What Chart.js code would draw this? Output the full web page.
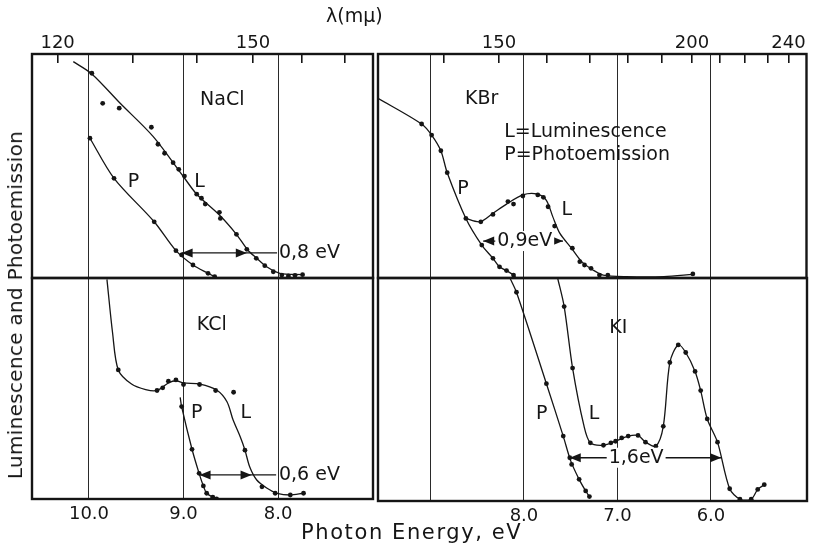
<!DOCTYPE html>
<html>
<head>
<meta charset="utf-8">
<script src="https://cdn.jsdelivr.net/npm/chart.js@4.4.1/dist/chart.umd.min.js"></script>
<style>
    body { margin: 0; background: #fff; }
    #wrap { position: relative; width: 815px; height: 546px; overflow: hidden; }
    #wrap canvas { position: absolute; left: 0; top: 0; }
    .txt { position: absolute; font-family: 'DejaVu Sans', sans-serif; color: #151515; white-space: nowrap; }
    #lam { left: 326px; top: 4px; font-size: 19px; }
    #xtitle { left: 301px; top: 520px; font-size: 21px; letter-spacing: 1.6px; }
    #ytitle { left: 15px; top: 305px; font-size: 20px; letter-spacing: 0.3px; transform: translate(-50%, -50%) rotate(-90deg); }
</style>
</head>
<body>
<div id="wrap">
    <canvas id="c-nacl" width="815" height="546"></canvas>
    <canvas id="c-kcl" width="815" height="546"></canvas>
    <canvas id="c-kbr" width="815" height="546"></canvas>
    <canvas id="c-ki" width="815" height="546"></canvas>
    <div class="txt" id="lam">λ(mμ)</div>
    <div class="txt" id="xtitle">Photon Energy, eV</div>
    <div class="txt" id="ytitle">Luminescence and Photoemission</div>
</div>
<script>
// photon energy (eV) and relative intensity (0-100).
// *Dot* arrays are the measured points, *Line* arrays trace the drawn curve.
const naclLumDotE = [9.97, 9.855, 9.68, 9.34, 9.27, 9.20, 9.11, 9.05, 8.99, 8.86, 8.81, 8.77, 8.62, 8.61, 8.44, 8.33, 8.23, 8.14, 8.05, 7.96, 7.89, 7.82, 7.74];
const naclLumDotI = [91.4, 78.0, 75.8, 67.3, 59.7, 55.7, 51.5, 48.5, 45.5, 37.4, 35.6, 33.0, 29.3, 26.6, 19.5, 12.8, 8.8, 5.5, 2.8, 1.3, 0.9, 1.2, 1.5];
const naclLumLineE = [10.166, 9.97, 9.67, 9.32, 9.0, 8.86, 8.62, 8.44, 8.32, 8.225, 8.12, 7.98, 7.74];
const naclLumLineI = [96.6, 91.1, 78.0, 63.1, 45.2, 37.4, 28.1, 19.5, 12.5, 8.8, 5.0, 2.1, 1.5];
const naclPhoDotE = [9.99, 9.735, 9.31, 9.08, 9.02, 8.90, 8.74, 8.67];
const naclPhoDotI = [62.4, 44.5, 25.1, 12.2, 10.3, 5.8, 2.1, 0.6];
const naclPhoLineE = [9.99, 9.735, 9.31, 9.08, 8.90, 8.74, 8.67];
const naclPhoLineI = [62.4, 44.5, 25.1, 12.2, 5.8, 2.1, 0.6];

const kbrPhoDotE = [9.094, 8.987, 8.888, 8.82, 8.62, 8.45, 8.33, 8.26, 8.185, 8.11];
const kbrPhoDotI = [68.75, 63.8, 56.8, 47.0, 26.6, 14.7, 8.8, 5.0, 3.3, 1.3];
const kbrPhoLineE = [9.56, 9.094, 8.987, 8.888, 8.82, 8.62, 8.45, 8.33, 8.26, 8.185, 8.11, 8.08];
const kbrPhoLineI = [80.2, 68.75, 63.8, 56.8, 47.0, 26.6, 14.7, 8.8, 5.0, 3.3, 1.3, 0];
const kbrLumDotE = [8.46, 8.33, 8.17, 8.11, 8.01, 7.85, 7.79, 7.74, 7.67, 7.48, 7.40, 7.35, 7.28, 7.19, 7.10, 6.19];
const kbrLumDotI = [25.1, 28.4, 34.1, 33.0, 36.6, 37.1, 36.0, 31.8, 23.2, 13.3, 7.3, 5.8, 4.3, 1.3, 1.3, 1.8];
const kbrLumLineE = [8.63, 8.47, 8.33, 8.185, 8.01, 7.86, 7.76, 7.69, 7.615, 7.49, 7.38, 7.26, 7.15, 6.9, 6.5, 6.19];
const kbrLumLineI = [26.7, 25.1, 28.9, 33.0, 37.1, 37.5, 34.8, 27.4, 20.0, 13.3, 7.3, 3.6, 1.3, 0.6, 0.6, 1.6];

const kclLumDotE = [9.69, 9.28, 9.22, 9.16, 9.08, 9.00, 8.83, 8.66, 8.47, 8.35, 8.17, 8.03, 7.87, 7.73];
const kclLumDotI = [58.4, 49.1, 50.3, 53.3, 53.9, 51.8, 51.8, 49.1, 48.3, 22.1, 5.5, 2.6, 1.8, 2.6];
const kclLumLineE = [9.81, 9.75, 9.69, 9.55, 9.40, 9.28, 9.16, 9.08, 9.0, 8.825, 8.65, 8.54, 8.475, 8.40, 8.35, 8.30, 8.225, 8.12, 8.01, 7.87, 7.735];
const kclLumLineI = [99.4, 75.0, 58.4, 52.0, 49.5, 49.1, 52.5, 53.5, 52.5, 52.0, 49.3, 44.0, 35.7, 28.2, 22.2, 14.6, 8.6, 5.0, 2.6, 1.8, 2.6];
const kclPhoDotE = [9.02, 8.91, 8.835, 8.79, 8.755, 8.69, 8.65];
const kclPhoDotI = [41.8, 22.5, 11.6, 5.9, 2.6, 0.8, 0];
const kclPhoLineE = [9.035, 9.02, 8.91, 8.835, 8.79, 8.755, 8.69, 8.65];
const kclPhoLineI = [46.0, 41.8, 22.5, 11.6, 5.9, 2.6, 0.8, 0];

const kiPhoDotE = [8.08, 7.76, 7.58, 7.51, 7.49, 7.41, 7.34, 7.30];
const kiPhoDotI = [93.6, 52.6, 29.1, 19.4, 16.4, 9.7, 4.5, 2.0];
const kiPhoLineE = [8.15, 8.08, 7.76, 7.58, 7.50, 7.41, 7.34, 7.30];
const kiPhoLineI = [100, 93.6, 52.6, 29.1, 18.0, 9.7, 4.5, 2.0];
const kiLumDotE = [7.57, 7.48, 7.29, 7.15, 7.07, 7.02, 6.955, 6.885, 6.78, 6.70, 6.59, 6.51, 6.44, 6.35, 6.27, 6.17, 6.11, 6.04, 5.93, 5.80, 5.69, 5.57, 5.50, 5.43];
const kiLumDotI = [87.2, 59.6, 26.1, 25.0, 26.1, 26.8, 28.3, 29.1, 29.4, 26.4, 24.6, 33.5, 62.1, 70.0, 66.6, 58.1, 49.5, 36.8, 26.4, 5.5, 0.8, 0.8, 5.2, 7.3];
const kiLumLineE = [7.64, 7.57, 7.48, 7.36, 7.29, 7.15, 7.02, 6.885, 6.78, 6.70, 6.59, 6.51, 6.44, 6.35, 6.27, 6.17, 6.11, 6.04, 5.93, 5.80, 5.69, 5.57, 5.50, 5.43];
const kiLumLineI = [100, 87.2, 59.6, 34.0, 26.1, 25.0, 26.8, 29.1, 29.4, 26.4, 24.6, 33.5, 62.1, 70.0, 66.6, 58.1, 49.5, 36.8, 26.4, 5.5, 0.8, 0.8, 5.2, 7.3];

// axis ticks
const leftEnergyGrid = [10, 9, 8];
const leftEnergyLabels = ['10.0', '9.0', '8.0'];
const rightEnergyGrid = [9, 8, 7, 6];
const rightEnergyLabels = ['', '8.0', '7.0', '6.0'];
const leftLambdaTicks = [120, 130, 140, 150, 160, 170];
const leftLambdaLabels = [120, 150];
const rightLambdaTicks = [140, 150, 160, 170, 180, 190, 200, 210, 220, 230, 240];
const rightLambdaLabels = [150, 200, 240];

const INK = '#151515';
const FONT = "'DejaVu Sans', sans-serif";

const panelPlugin = {
    id: 'panel',
    afterDraw(chart, args, opts) {
        const { ctx, chartArea: a, scales } = chart;
        const px = v => scales.x.getPixelForValue(v);
        const py = v => scales.y.getPixelForValue(v);
        ctx.save();
        ctx.strokeStyle = INK;
        ctx.fillStyle = INK;
        ctx.lineWidth = 2.4;
        ctx.strokeRect(a.left, a.top, a.right - a.left, a.bottom - a.top);

        ctx.font = '19px ' + FONT;
        ctx.textBaseline = 'middle';
        (opts.notes || []).forEach(n => {
            ctx.textAlign = n.align || 'center';
            ctx.fillText(n.text, px(n.e), py(n.i));
        });

        (opts.arrows || []).forEach(ar => {
            const x1 = px(ar.from), x2 = px(ar.to), y = py(ar.i);
            const xEnd = ar.lineTo !== undefined ? px(ar.lineTo) : x2;
            ctx.lineWidth = 1.3;
            ctx.beginPath();
            ctx.moveTo(x1, y);
            ctx.lineTo(Math.max(x2, xEnd), y);
            ctx.stroke();
            [[x1, -1], [x2, 1]].forEach(([x, dir]) => {
                ctx.beginPath();
                ctx.moveTo(x, y);
                ctx.lineTo(x - dir * 11, y - 4.5);
                ctx.lineTo(x - dir * 11, y + 4.5);
                ctx.closePath();
                ctx.fill();
            });
            ctx.font = '19px ' + FONT;
            if (ar.textAlign === 'left') {
                ctx.textAlign = 'left';
                ctx.fillText(ar.text, px(ar.textE), y);
            } else {
                const w = ctx.measureText(ar.text).width;
                const tx = px(ar.textE);
                ctx.fillStyle = '#fff';
                ctx.fillRect(tx - w / 2 - 2, y - 10, w + 4, 20);
                ctx.fillStyle = INK;
                ctx.textAlign = 'center';
                ctx.fillText(ar.text, tx, y);
            }
        });
        ctx.restore();
    }
};

const toPoints = (es, is) => es.map((e, i) => ({ x: e, y: is[i] }));

function curveLine(es, is) {
    return {
        data: toPoints(es, is),
        showLine: true,
        tension: 0.3,
        borderColor: INK,
        borderWidth: 1.3,
        pointRadius: 0,
    };
}

function curveDots(es, is) {
    return {
        data: toPoints(es, is),
        showLine: false,
        pointRadius: 2.4,
        pointBackgroundColor: INK,
        pointBorderWidth: 0,
    };
}

function drawPanel(id, p) {
    const scales = {
        x: {
            type: 'linear', reverse: true, min: p.min, max: p.max, position: 'bottom',
            afterBuildTicks: s => { s.ticks = p.grid.map(v => ({ value: v })); },
            afterFit: s => { s.height = p.bottomLabels ? 30 : 0; },
            ticks: {
                display: !!p.bottomLabels, autoSkip: false, maxRotation: 0, padding: 5,
                color: INK, font: { family: FONT, size: 18 },
                callback: (v, i) => (p.bottomLabels ? p.bottomLabels[i] : ''),
            },
            grid: { color: '#2a2a2a', lineWidth: 1, drawTicks: false },
            border: { display: false },
        },
        y: { min: 0, max: 100, display: false },
    };
    if (p.lambdaTicks) {
        scales.xTop = {
            type: 'linear', reverse: true, min: p.min, max: p.max, position: 'top',
            afterBuildTicks: s => { s.ticks = p.lambdaTicks.map(l => ({ value: 1239.8 / l })); },
            afterFit: s => { s.height = 40; },
            ticks: {
                autoSkip: false, maxRotation: 0, padding: 9, color: INK,
                font: { family: FONT, size: 18 },
                callback: (v, i) => (p.lambdaLabels.includes(p.lambdaTicks[i]) ? String(p.lambdaTicks[i]) : ''),
            },
            grid: { drawOnChartArea: false, drawTicks: true, tickLength: -9, color: INK, lineWidth: 1.6 },
            border: { display: false },
        };
    }
    return new Chart(document.getElementById(id), {
        type: 'scatter',
        data: { datasets: p.datasets },
        options: {
            responsive: false,
            animation: false,
            events: [],
            layout: { padding: p.pad },
            plugins: {
                legend: { display: false },
                tooltip: { enabled: false },
                panel: { notes: p.notes, arrows: p.arrows },
            },
            scales: scales,
        },
        plugins: [panelPlugin],
    });
}

drawPanel('c-nacl', {
    min: 6.995, max: 10.603, grid: leftEnergyGrid,
    lambdaTicks: leftLambdaTicks, lambdaLabels: leftLambdaLabels,
    pad: { left: 32, right: 442, top: 14, bottom: 268 },
    datasets: [
        curveLine(naclLumLineE, naclLumLineI), curveDots(naclLumDotE, naclLumDotI),
        curveLine(naclPhoLineE, naclPhoLineI), curveDots(naclPhoDotE, naclPhoDotI),
    ],
    notes: [
        { text: 'NaCl', e: 8.59, i: 79.5 },
        { text: 'P', e: 9.53, i: 43 },
        { text: 'L', e: 8.83, i: 43 },
    ],
    arrows: [{ from: 9.02, to: 8.33, lineTo: 8.01, i: 11.2, text: '0,8 eV', textE: 7.99, textAlign: 'left' }],
});

drawPanel('c-kcl', {
    min: 6.995, max: 10.603, grid: leftEnergyGrid, bottomLabels: leftEnergyLabels,
    pad: { left: 32, right: 442, top: 278, bottom: 17 },
    datasets: [
        curveLine(kclLumLineE, kclLumLineI), curveDots(kclLumDotE, kclLumDotI),
        curveLine(kclPhoLineE, kclPhoLineI), curveDots(kclPhoDotE, kclPhoDotI),
    ],
    notes: [
        { text: 'KCl', e: 8.70, i: 78.7 },
        { text: 'P', e: 8.86, i: 38.8 },
        { text: 'L', e: 8.34, i: 38.8 },
    ],
    arrows: [{ from: 8.83, to: 8.28, lineTo: 8.02, i: 10.9, text: '0,6 eV', textE: 7.99, textAlign: 'left' }],
});

drawPanel('c-kbr', {
    min: 4.973, max: 9.561, grid: rightEnergyGrid,
    lambdaTicks: rightLambdaTicks, lambdaLabels: rightLambdaLabels,
    pad: { left: 378, right: 8, top: 14, bottom: 268 },
    datasets: [
        curveLine(kbrPhoLineE, kbrPhoLineI), curveDots(kbrPhoDotE, kbrPhoDotI),
        curveLine(kbrLumLineE, kbrLumLineI), curveDots(kbrLumDotE, kbrLumDotI),
    ],
    notes: [
        { text: 'KBr', e: 8.45, i: 80 },
        { text: 'L=Luminescence', e: 8.21, i: 65.3, align: 'left' },
        { text: 'P=Photoemission', e: 8.21, i: 54.9, align: 'left' },
        { text: 'P', e: 8.65, i: 39.6 },
        { text: 'L', e: 7.54, i: 30.4 },
    ],
    arrows: [{ from: 8.435, to: 7.58, i: 16.5, text: '0,9eV', textE: 7.99 }],
});

drawPanel('c-ki', {
    min: 4.973, max: 9.561, grid: rightEnergyGrid, bottomLabels: rightEnergyLabels,
    pad: { left: 378, right: 8, top: 278, bottom: 15 },
    datasets: [
        curveLine(kiPhoLineE, kiPhoLineI), curveDots(kiPhoDotE, kiPhoDotI),
        curveLine(kiLumLineE, kiLumLineI), curveDots(kiLumDotE, kiLumDotI),
    ],
    notes: [
        { text: 'KI', e: 6.99, i: 77.5 },
        { text: 'P', e: 7.81, i: 38.8 },
        { text: 'L', e: 7.25, i: 38.8 },
    ],
    arrows: [{ from: 7.51, to: 5.89, i: 19.4, text: '1,6eV', textE: 6.80 }],
});
</script>
</body>
</html>
